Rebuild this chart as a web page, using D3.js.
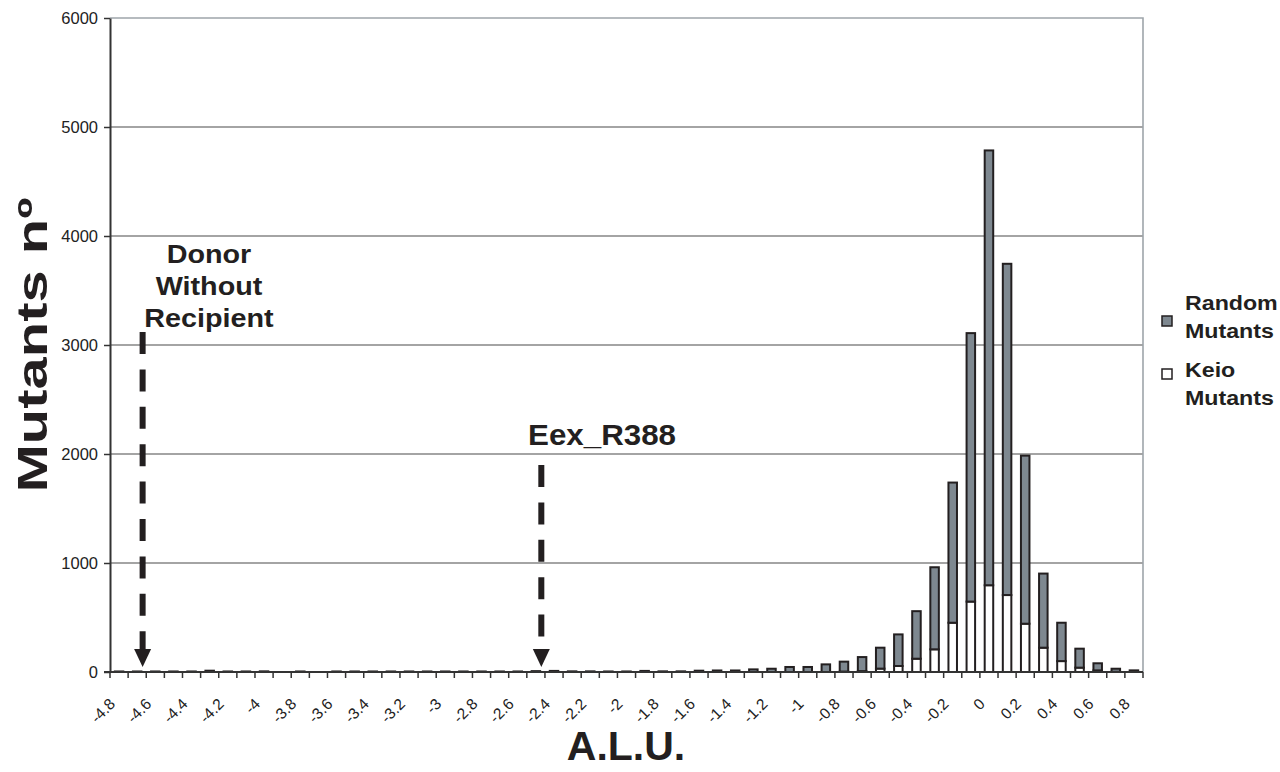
<!DOCTYPE html>
<html>
<head>
<meta charset="utf-8">
<script src="https://cdn.jsdelivr.net/npm/d3@7"></script>
<style>
  html, body { margin: 0; padding: 0; background: #fff; }
  svg { display: block; font-family: "Liberation Sans", Arial, sans-serif; }
</style>
</head>
<body>
<svg id="chart"></svg>
<script>
const categories = [
  '-4.8', '-4.7', '-4.6', '-4.5', '-4.4', '-4.3', '-4.2', '-4.1',
  '-4', '-3.9', '-3.8', '-3.7', '-3.6', '-3.5', '-3.4', '-3.3', '-3.2', '-3.1',
  '-3', '-2.9', '-2.8', '-2.7', '-2.6', '-2.5', '-2.4', '-2.3', '-2.2', '-2.1',
  '-2', '-1.9', '-1.8', '-1.7', '-1.6', '-1.5', '-1.4', '-1.3', '-1.2', '-1.1',
  '-1', '-0.9', '-0.8', '-0.7', '-0.6', '-0.5', '-0.4', '-0.3', '-0.2', '-0.1',
  '0', '0.1', '0.2', '0.3', '0.4', '0.5', '0.6', '0.7', '0.8',
];

// white, bottom of the stack
const keioMutants = [
  0, 0, 0, 0, 0, 0, 0, 0,
  0, 0, 0, 0, 0, 0, 0, 0, 0, 0,
  0, 0, 0, 0, 0, 0, 0, 0, 0, 0,
  0, 0, 0, 0, 0, 0, 0, 0, 0, 0,
  0, 0, 4, 8, 31, 55, 122, 208, 452, 646,
  796, 706, 443, 223, 100, 40, 15, 2, 1,
];

// grey, on top
const randomMutants = [
  5, 5, 5, 5, 5, 12, 5, 5,
  6, 0, 5, 0, 5, 5, 5, 5, 5, 5,
  5, 5, 5, 5, 5, 8, 10, 6, 6, 5,
  5, 10, 6, 6, 12, 14, 14, 24, 30, 46,
  46, 70, 91, 129, 192, 290, 436, 753, 1286, 2463,
  3989, 3039, 1542, 680, 352, 174, 65, 28, 14,
];

const yTicks = [0, 1000, 2000, 3000, 4000, 5000, 6000];

const seriesNames = ['Random Mutants', 'Keio Mutants'];

// arrows, in A.L.U.
const markers = [
  { at: -4.67, top: 332, label: ['Donor', 'Without', 'Recipient'] },
  { at: -2.47, top: 465, label: ['Eex_R388'] },
];

const width = 1280;
const height = 772;
const plotLeft = 110;
const plotRight = 1143;
const plotTop = 18;
const plotBottom = 672;
const ink = '#231f20';
const grey = '#7e8890';
const font = '"Liberation Sans", Arial, sans-serif';

const svg = d3.select('#chart').attr('width', width).attr('height', height);

const data = categories.map((c, i) => ({
  cat: c,
  keio: keioMutants[i],
  random: randomMutants[i],
}));

// X
const xScale = d3
  .scaleBand()
  .domain(categories)
  .range([plotLeft, plotRight]);
const step = xScale.step();
const barWidth = step * 0.47;
const xValue = d3
  .scaleLinear()
  .domain([-4.8, 0.8])
  .range([xScale('-4.8') + step / 2, xScale('0.8') + step / 2]);

// Y
const yScale = d3
  .scaleLinear()
  .domain([0, 6000])
  .range([plotBottom, plotTop]);

// Grid
svg
  .append('g')
  .selectAll('line')
  .data(yTicks.slice(1, -1))
  .join('line')
  .attr('x1', plotLeft)
  .attr('x2', plotRight)
  .attr('y1', (d) => yScale(d))
  .attr('y2', (d) => yScale(d))
  .attr('stroke', '#4a4a4a')
  .attr('stroke-width', 1.2);

// frame: top and right in light grey
svg
  .append('path')
  .attr('d', `M${plotLeft},${yScale(6000)}H${plotRight}V${plotBottom}`)
  .attr('fill', 'none')
  .attr('stroke', '#9ea5aa')
  .attr('stroke-width', 1.6);

// Y axis
const yAxis = svg
  .append('g')
  .attr('transform', `translate(${plotLeft},0)`)
  .call(
    d3
      .axisLeft(yScale)
      .tickValues(yTicks)
      .tickFormat(d3.format('d'))
      .tickSize(6)
      .tickSizeOuter(0)
  );
yAxis.attr('font-family', font).attr('font-size', 16.5);
yAxis.select('.domain').attr('stroke', '#333').attr('stroke-width', 2);
yAxis.selectAll('.tick line').attr('stroke', '#333').attr('stroke-width', 1.5);
yAxis.selectAll('text').attr('x', -12).attr('fill', '#222');

// Bars
const stack = d3.stack().keys(['keio', 'random'])(data);
svg
  .append('g')
  .selectAll('g')
  .data(stack)
  .join('g')
  .attr('fill', (s) => (s.key === 'keio' ? '#fff' : grey))
  .selectAll('rect')
  .data((s) => s.filter((d) => d[1] > d[0]))
  .join('rect')
  .attr('x', (d) => xScale(d.data.cat) + (step - barWidth) / 2)
  .attr('width', barWidth)
  .attr('y', (d) => yScale(d[1]))
  .attr('height', (d) => yScale(d[0]) - yScale(d[1]))
  .attr('stroke', ink)
  .attr('stroke-width', 2);

// X axis
const xAxis = svg.append('g');
xAxis
  .append('line')
  .attr('x1', plotLeft - 6)
  .attr('x2', plotRight)
  .attr('y1', plotBottom)
  .attr('y2', plotBottom)
  .attr('stroke', '#333')
  .attr('stroke-width', 2);
xAxis
  .selectAll('.tick-mark')
  .data(categories.concat(['end']))
  .join('line')
  .attr('class', 'tick-mark')
  .attr('x1', (d, i) => plotLeft + i * step)
  .attr('x2', (d, i) => plotLeft + i * step)
  .attr('y1', plotBottom)
  .attr('y2', plotBottom + 6)
  .attr('stroke', '#333')
  .attr('stroke-width', 1.5);
xAxis
  .selectAll('text')
  .data(categories.filter((d, i) => i % 2 === 0))
  .join('text')
  .attr(
    'transform',
    (d) =>
      `translate(${xScale(d) + step / 2 - 3},${plotBottom + 33}) rotate(-45)`
  )
  .attr('text-anchor', 'end')
  .attr('fill', '#222')
  .attr('font-size', 15.5)
  .text((d) => d);

// Arrows
const arrows = svg.append('g').attr('fill', ink).attr('stroke', ink);
markers.forEach((m) => {
  const x = xValue(m.at);
  arrows
    .append('line')
    .attr('x1', x)
    .attr('x2', x)
    .attr('y1', m.top)
    .attr('y2', 650)
    .attr('stroke-width', 6)
    .attr('stroke-dasharray', '22 15.4');
  arrows
    .append('path')
    .attr('stroke', 'none')
    .attr('d', `M${x - 8.5},649L${x + 8.5},649L${x},667Z`);
});

// marker labels
const bold = (g, x, y, size, sx, txt, anchor) =>
  g
    .append('text')
    .attr('transform', `translate(${x},${y}) scale(${sx},1)`)
    .attr('text-anchor', anchor || 'middle')
    .attr('font-weight', 'bold')
    .attr('font-size', size)
    .attr('fill', ink)
    .text(txt);

const notes = svg.append('g');
markers[0].label.forEach((t, i) => bold(notes, 209, 263 + i * 32, 25, 1.15, t));
bold(notes, 602, 445, 29, 1.08, markers[1].label[0]);

// Legend
const legend = svg.append('g');
seriesNames.forEach((name, i) => {
  const y0 = 310 + i * 67;
  legend
    .append('rect')
    .attr('x', 1162)
    .attr('y', y0 + 6 - i * 14)
    .attr('width', 10)
    .attr('height', 10)
    .attr('fill', i === 0 ? grey : '#fff')
    .attr('stroke', ink)
    .attr('stroke-width', 1.5);
  name
    .split(' ')
    .forEach((w, j) => bold(legend, 1185, y0 + j * 28, 20, 1.16, w, 'start'));
});

// Titles
bold(svg, 0, 0, 42, 1, 'Mutants nº').attr(
  'transform',
  'translate(47,345) rotate(-90) scale(1.38,1)'
);
bold(svg, 626, 760, 41, 1, 'A.L.U.');
</script>
</body>
</html>
